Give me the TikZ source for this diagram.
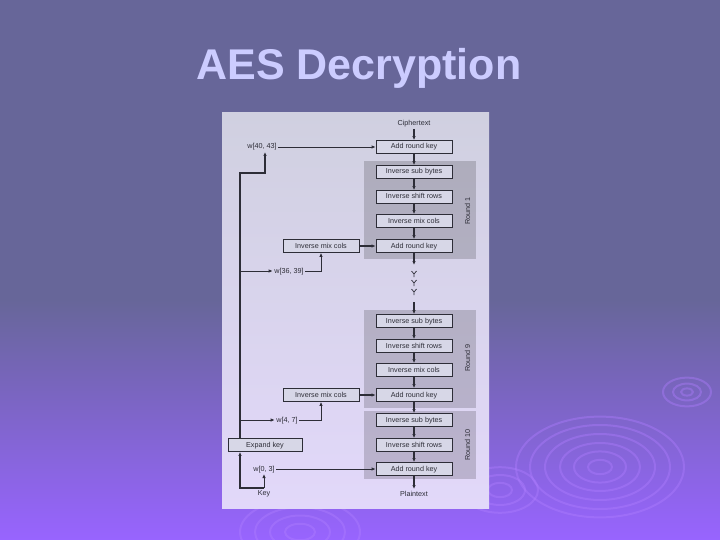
\documentclass[tikz,border=0pt]{standalone}
\usepackage{fontspec}
\setmainfont{Liberation Sans}
\usetikzlibrary{arrows.meta}
\definecolor{bgtop}{RGB}{103,102,153}
\definecolor{bgbot}{RGB}{152,100,255}
\definecolor{paneltop}{RGB}{208,208,224}
\definecolor{panelbot}{RGB}{226,216,250}
\definecolor{boxfill}{RGB}{215,215,231}
\definecolor{ink}{RGB}{45,45,55}
\definecolor{titlecol}{RGB}{204,204,255}
\definecolor{ringcol}{RGB}{175,125,255}
\tikzset{
  stage/.style={draw=ink, line width=0.8pt, fill=boxfill, minimum width=76pt,
    minimum height=13pt, inner sep=0pt, text height=5.3pt, text depth=1.3pt,
    font=\fontsize{7.2}{8}\selectfont, text=ink},
  lbl/.style={font=\fontsize{7.2}{8}\selectfont, text=ink, inner sep=1.5pt,
    text height=5.3pt, text depth=1.3pt},
  flow/.style={draw=ink, line width=1.4pt, -{Latex[length=4pt,width=3.5pt]}},
  wire/.style={draw=ink, line width=0.8pt, -{Latex[length=4pt,width=3.5pt]}},
  roundbg/.style={fill=black, fill opacity=0.17},
  ring/.style={draw=ringcol, line width=2pt, opacity=0.4},
}
\begin{document}
\begin{tikzpicture}[x=1pt,y=-1pt]
\useasboundingbox (0,0) rectangle (720,540);
\fill[bgtop] (0,0) rectangle (720,300);
\shade[top color=bgtop, bottom color=bgbot] (0,299.5) rectangle (720,540);
\foreach \r in {12,26,40,55,70,84}
  \draw[ring] (600,467) ellipse ({\r pt} and {0.6*\r pt});
\foreach \r in {6,14,24}
  \draw[ring] (687,392) ellipse ({\r pt} and {0.6*\r pt});
\foreach \r in {15,30,45,60}
  \draw[ring] (300,532) ellipse ({\r pt} and {0.55*\r pt});
\foreach \r in {12,25,38}
  \draw[ring] (500,490) ellipse ({\r pt} and {0.6*\r pt});

\node[font=\bfseries\fontsize{43}{50}\selectfont, text=titlecol] (title) at (359,68) {AES Decryption};

\shade[top color=paneltop, bottom color=panelbot] (222,113) rectangle (489,508);
\fill[roundbg] (364,161) rectangle (476,259);
\fill[roundbg] (364,310) rectangle (476,408);
\fill[roundbg] (364,411) rectangle (476,479);
\node[lbl, rotate=90] (r1) at (468,211) {Round 1};
\node[lbl, rotate=90] (r9) at (468,358) {Round 9};
\node[lbl, rotate=90] (r10) at (468,445) {Round 10};

\node[lbl] (cipher) at (414,124) {Ciphertext};
\node[stage] (ark0) at (414,147) {Add round key};
\node[stage] (isb1) at (414,172) {Inverse sub bytes};
\node[stage] (isr1) at (414,197) {Inverse shift rows};
\node[stage] (imc1) at (414,221) {Inverse mix cols};
\node[stage] (ark1) at (414,246) {Add round key};
\node[stage] (isb9) at (414,321) {Inverse sub bytes};
\node[stage] (isr9) at (414,346) {Inverse shift rows};
\node[stage] (imc9) at (414,370) {Inverse mix cols};
\node[stage] (ark9) at (414,395) {Add round key};
\node[stage] (isb10) at (414,420) {Inverse sub bytes};
\node[stage] (isr10) at (414,445) {Inverse shift rows};
\node[stage] (ark10) at (414,469) {Add round key};
\node[lbl] (plain) at (414,494) {Plaintext};

\node[stage] (kmc1) at (321,246) {Inverse mix cols};
\node[stage] (kmc9) at (321,395) {Inverse mix cols};
\node[stage, minimum width=74pt] (expand) at (265,445) {Expand key};
\node[lbl] (key) at (264,493) {Key};
\node[lbl] (w40) at (262,147) {w[40, 43]};
\node[lbl] (w36) at (289,271) {w[36, 39]};
\node[lbl] (w4) at (287,420) {w[4, 7]};
\node[lbl] (w0) at (264,469) {w[0, 3]};

\coordinate (trunk) at (240,445);
\coordinate (bend40) at (265,173);
\coordinate (gapA) at (414,265);
\coordinate (gapB) at (414,302);

\foreach \a/\b in {cipher/ark0, ark0/isb1, isb1/isr1, isr1/imc1, imc1/ark1,
    isb9/isr9, isr9/imc9, imc9/ark9, ark9/isb10, isb10/isr10, isr10/ark10, ark10/plain}
  \draw[flow] (\a) -- (\b);
\draw[flow] (ark1) -- (gapA);
\draw[flow] (gapB) -- (isb9);
\foreach \y in {274,283,292}
  \draw[ink, line width=0.7pt] (411.5,\y-3) -- (414,\y) -- (416.5,\y-3) (414,\y) -- (414,\y+3);

\draw[wire] (w40) -- (ark0);
\draw[flow] (kmc1) -- (ark1);
\draw[flow] (kmc9) -- (ark9);
\draw[wire] (w0) -- (ark10);
\draw[flow] (expand.north -| trunk) |- (bend40) -- (w40.south -| bend40);
\draw[wire] (trunk |- w36) -- (w36);
\draw[wire] (trunk |- w4) -- (w4);
\draw[wire] (w36) -| (kmc1);
\draw[wire] (w4) -| (kmc9);
\draw[wire] (key) -- (w0);
\draw[flow] (key.north) -| (expand.south -| trunk);
\end{tikzpicture}
\end{document}
